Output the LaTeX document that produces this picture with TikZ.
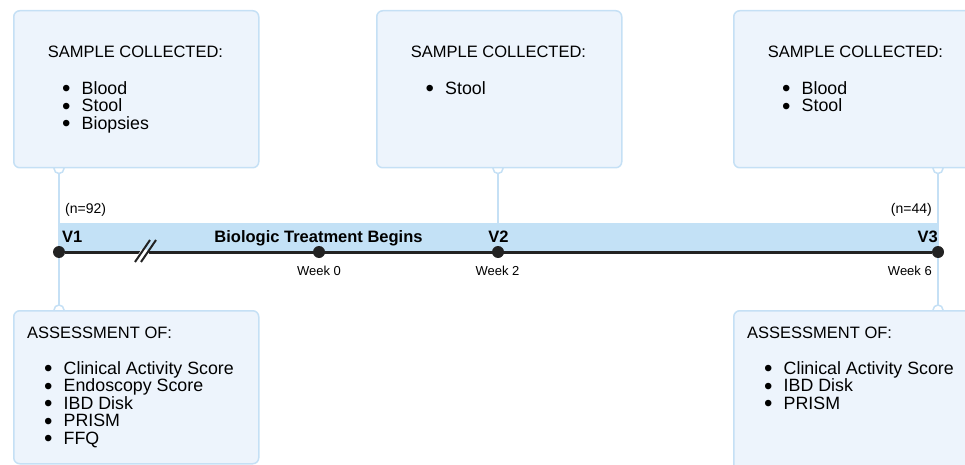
\documentclass[tikz,border=0pt]{standalone}
\usepackage{fontspec}
\setmainfont{Liberation Sans}
\usetikzlibrary{positioning, backgrounds}
\definecolor{tlband}{HTML}{C3E1F6}
\definecolor{tlboxfill}{HTML}{EDF4FC}
\definecolor{tlboxline}{HTML}{C5E0F5}
\definecolor{tlink}{HTML}{222222}
\newcommand\bul{\makebox[19.5pt][l]{\smash{\raisebox{-2.5pt}{\fontsize{24}{0}\selectfont\textbullet}}}}

\begin{document}
\begin{tikzpicture}[x=1pt, y=-1pt,
  card/.style={draw=tlboxline, fill=tlboxfill, rounded corners=6pt, line width=1.5pt, minimum width=245pt, anchor=north west, inner sep=0pt},
  head/.style={font=\fontsize{16.5}{17.5}\selectfont, inner sep=0pt},
  items/.style={font=\fontsize{17.8}{17.5}\selectfont, align=left, inner sep=0pt, anchor=north west},
  dot/.style={circle, fill=tlink, minimum size=12pt, inner sep=0pt},
  link/.style={draw=tlboxline, line width=1.5pt},
  joint/.style={circle, draw=tlboxline, fill=white, line width=1.5pt, minimum size=10pt, inner sep=0pt},
  visit/.style={font=\bfseries\fontsize{16.5}{18}\selectfont, inner sep=0pt},
  week/.style={font=\fontsize{13}{15}\selectfont, inner sep=0pt},
  count/.style={font=\fontsize{14}{16}\selectfont, inner sep=0pt}
]
  \useasboundingbox (0,0) rectangle (965,465);
  \clip (0,0) rectangle (965,465);

  % timeline points
  \node[dot] (v1) at (59,252) {};
  \node[dot] (wk0) at (319,252) {};
  \node[dot] (v2) at (498,252) {};
  \node[dot] (v3) at (938,252) {};

  % sample cards (top) and assessment cards (bottom)
  \node[card, minimum height=157pt] (s1) at (13,10) {};
  \node[card, minimum height=157pt] (s2) at (376,10) {};
  \node[card, minimum height=157pt] (s3) at (733,10) {};
  \node[card, minimum height=153pt] (a1) at (13,310) {};
  \node[card, minimum height=175pt] (a3) at (733,310) {};

  \coordinate (j1) at (s1.south -| v1);
  \coordinate (j2) at (s2.south -| v2);
  \coordinate (j3) at (s3.south -| v3);
  \coordinate (j4) at (a1.north -| v1);
  \coordinate (j5) at (a3.north -| v3);

  \begin{pgfonlayer}{background}
    \draw[link] (j1) -- (v1);
    \draw[link] (v1) -- (j4);
    \draw[link] (j2) -- (v2);
    \draw[link] (j3) -- (v3);
    \draw[link] (v3) -- (j5);
    \fill[tlband] (v1.center |- 0,223) rectangle (v3.center);
    \foreach \j in {j1,j2,j3,j4,j5}
      \node[joint] at (\j) {};
  \end{pgfonlayer}

  \draw[tlink, line width=3pt] (v1) -- (v3);

  % break mark
  \fill[white] (140.2,249.5) -- (146.2,249.5) -- (149.6,254.5) -- (143.6,254.5) -- cycle;
  \fill[white] (141.5,249.5) -- (147.5,249.5) -- (144.1,254.5) -- (138.1,254.5) -- cycle;
  \draw[tlink, line width=2pt] (135,262) -- (150,240);
  \draw[tlink, line width=2pt] (141,262) -- (156,240);

  % card texts
  \node[head, anchor=base] (h1) at (135.5,58) {SAMPLE COLLECTED:};
  \node[items] (l1) at (62,81) {\bul Blood\\\bul Stool\\\bul Biopsies};
  \node[head, anchor=base] (h2) at (498.5,58) {SAMPLE COLLECTED:};
  \node[items] (l2) at (425.5,81) {\bul Stool};
  \node[head, anchor=base] (h3) at (855.5,58) {SAMPLE COLLECTED:};
  \node[items] (l3) at (782,81) {\bul Blood\\\bul Stool};
  \node[head, anchor=base west] (h4) at (27,338) {ASSESSMENT OF:};
  \node[items] (l4) at (44,361) {\bul Clinical Activity Score\\\bul Endoscopy Score\\\bul IBD Disk\\\bul PRISM\\\bul FFQ};
  \node[head, anchor=base west] (h5) at (747,338) {ASSESSMENT OF:};
  \node[items] (l5) at (764,361) {\bul Clinical Activity Score\\\bul IBD Disk\\\bul PRISM};

  % timeline labels
  \node[visit, anchor=base west] (t1) at (62,242) {V1};
  \node[visit, anchor=base] (tb) at (318.5,242) {Biologic Treatment Begins};
  \node[visit, anchor=base] (t2) at (498.5,242) {V2};
  \node[visit, anchor=base east] (t3) at (938,242) {V3};
  \node[count, anchor=base west] (n1) at (65,213) {(n=92)};
  \node[count, anchor=base east] (n3) at (932,213) {(n=44)};
  \node[week, anchor=base] (w0) at (319,275) {Week 0};
  \node[week, anchor=base] (w2) at (497.5,275) {Week 2};
  \node[week, anchor=base east] (w6) at (932,275) {Week 6};
\end{tikzpicture}
\end{document}
